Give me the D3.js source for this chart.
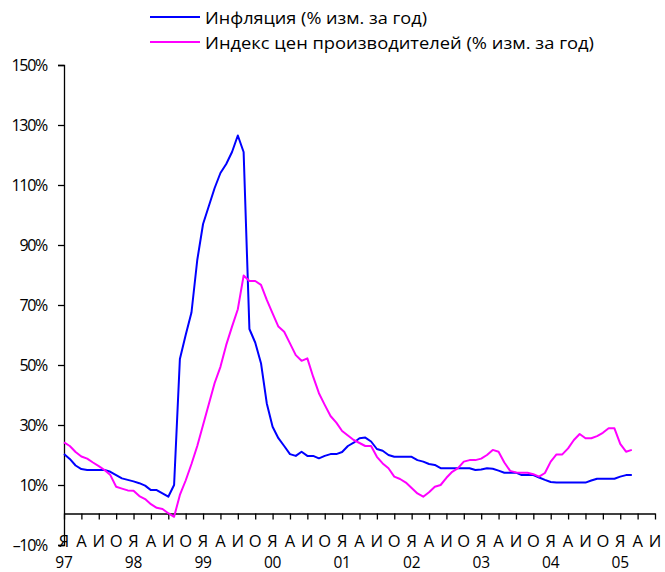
<!DOCTYPE html>
<html><head><meta charset="utf-8">
<script src="https://cdn.jsdelivr.net/npm/d3@7/dist/d3.min.js"></script>
<style>
body{margin:0;background:#fff;}
text{font-family:"Open Sans","Noto Sans",sans-serif;fill:#000;}
</style></head>
<body><svg id="c" width="665" height="572"></svg>
<script>
// Monthly data, Jan 1997 (index 0) .. Mar 2005
const inflation = [20.3,18.7,16.5,15.3,15,15,15,15,14.4,13.3,12.2,11.7,
 11.2,10.6,9.8,8.3,8.3,7.2,6.1,10,52,60,67.5,85,
 97,103,109,114,117,121,126.5,121,62,57.5,50.6,37.2,
 29.4,25.6,23,20.3,19.7,21.1,19.7,19.7,18.9,19.7,20.3,20.3,
 21,23,24.1,25.6,25.8,24.5,22,21.4,20,19.4,19.4,19.4,
 19.4,18.3,17.8,17,16.7,15.6,15.6,15.6,15.6,15.6,15.6,15,
 15.2,15.6,15.4,14.8,14.1,14.1,14.1,13.3,13.3,13.3,12.5,11.7,
 11,10.8,10.8,10.8,10.8,10.8,10.8,11.5,12.1,12.1,12.1,12.1,
 12.8,13.3,13.3];
const ppi = [24.2,23,21,19.5,18.8,17.5,16.3,15,13.3,9.4,8.8,8.2,
 8.1,6.3,5.3,3.6,2.4,2,0.6,-0.6,6.7,11.5,17,23,
 30,37,44,49.4,56.7,62.8,68.6,79.8,78,78,76.7,71.7,
 67.2,62.8,61.1,57.2,53.3,51.4,52.2,46.1,40.6,36.7,33,30.8,
 28,26.5,25,24,23,23,19.4,17.2,15.6,12.8,12,10.8,
 9,7.2,6.1,7.6,9.4,10,12.4,14.4,15.6,17.8,18.3,18.3,
 18.8,20,21.7,21.1,17.5,14.7,14.2,14.1,14.1,13.6,12.8,14,
 17.8,20.2,20.2,22.2,25,27,25.6,25.6,26.3,27.4,28.9,28.9,
 23.7,21.1,21.7];
const monthLetters = ["Я","А","И","О"];
const yearLabels = ["97","98","99","00","01","02","03","04","05"];
const yTicks = [-10,10,30,50,70,90,110,130,150];
const seriesNames = ["Инфляция (% изм. за год)","Индекс цен производителей (% изм. за год)"];
const seriesColors = ["#0000ff","#ff00ff"];
const monthsTotal = 102;

const svg = d3.select("#c");
const x = d3.scaleLinear().domain([0, monthsTotal]).range([64, 655]);
const y = d3.scaleLinear().domain([-10, 150]).range([545, 65]);

// Y axis
const yAxis = d3.axisLeft(y).tickValues(yTicks).tickSize(6).tickPadding(11)
  .tickFormat(d => (d < 0 ? "\u2013" + Math.abs(d) : d) + "%");
const gy = svg.append("g").attr("transform", `translate(${x(0)},0)`).call(yAxis);
gy.select(".domain").attr("stroke","#000").attr("stroke-width",1.3);
gy.selectAll(".tick line").attr("stroke","#000").attr("stroke-width",1.3);
gy.selectAll(".tick text").attr("font-size",16).attr("letter-spacing",-1.3).attr("fill","#000");

// X axis
const qTicks = d3.range(0, monthsTotal + 1, 3);
const xAxis = d3.axisBottom(x).tickValues(qTicks).tickSize(6).tickSizeOuter(0).tickFormat("");
const gx = svg.append("g").attr("transform", `translate(0,${y(0) - 1.5})`).call(xAxis);
gx.select(".domain").attr("stroke","#000").attr("stroke-width",1.3);
gx.selectAll(".tick line").attr("stroke","#000").attr("stroke-width",1.3);

svg.append("g").selectAll("text").data(qTicks).join("text")
  .attr("x", d => x(d)).attr("y", 546.5)
  .attr("text-anchor","middle").attr("font-size",16.5)
  .text(d => monthLetters[(d/3)%4]);
svg.append("g").selectAll("text").data(yearLabels).join("text")
  .attr("x", (d,i) => x(i*12)).attr("y", 567.5)
  .attr("text-anchor","middle").attr("font-size",15.5).attr("letter-spacing",-0.2)
  .text(d => d);

// Lines
const line = d3.line().x((d,i) => x(i)).y(d => y(d));
[inflation, ppi].forEach((s, k) => {
  svg.append("path").datum(s).attr("d", line)
    .attr("fill","none").attr("stroke", seriesColors[k]).attr("stroke-width",2)
    .attr("stroke-linejoin","round");
});

// Legend
const legY = [17, 42];
const legW = [222, 389];
seriesNames.forEach((n, k) => {
  svg.append("line").attr("x1",150).attr("x2",200).attr("y1",legY[k]).attr("y2",legY[k])
    .attr("stroke", seriesColors[k]).attr("stroke-width",2);
  svg.append("text").attr("x",205).attr("y",legY[k]+7).attr("font-size",17)
    .attr("textLength", legW[k]).attr("lengthAdjust","spacingAndGlyphs").text(n);
});
</script></body></html>
